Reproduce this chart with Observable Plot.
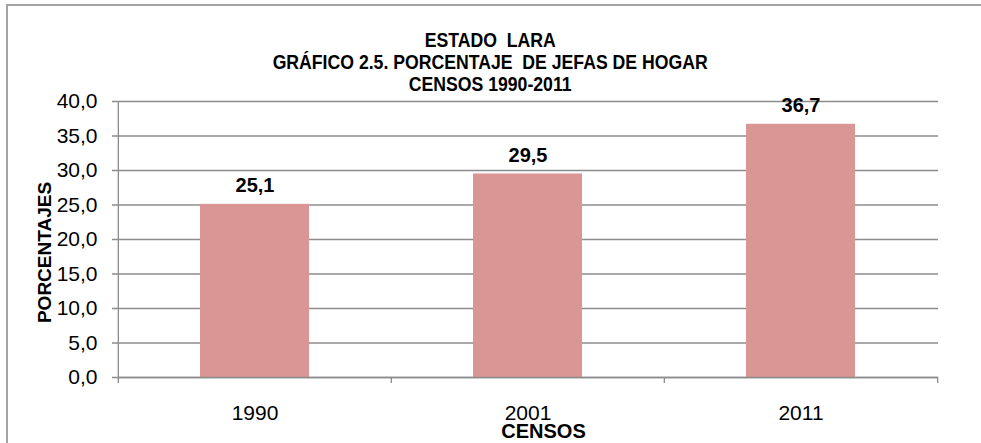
<!DOCTYPE html>
<html>
<head>
<meta charset="utf-8">
<script src="https://cdn.jsdelivr.net/npm/d3@7"></script>
<script src="https://cdn.jsdelivr.net/npm/@observablehq/plot@0.6"></script>
<style>
  html, body { margin: 0; padding: 0; background: #fff; overflow: hidden; }
  #wrap { position: relative; width: 981px; height: 443px; overflow: hidden; font-family: "Liberation Sans", Arial, sans-serif; }
  #border { position: absolute; left: 6px; top: 4px; width: 1000px; height: 500px; border-top: 2px solid #a3a3a3; border-left: 2px solid #a3a3a3; box-sizing: border-box; pointer-events: none; }
  #title { height: 92px; box-sizing: border-box; padding-top: 29px; text-align: center; font-weight: bold; font-size: 19.5px; line-height: 22px; color: #000; white-space: pre; transform: scaleX(0.905); transform-origin: 487px 0; }
  #chart svg { display: block; overflow: visible; }
</style>
</head>
<body>
<div id="wrap">
  <div id="title"></div>
  <div id="chart"></div>
  <div id="border"></div>
</div>
<script>
const titleLines = ["ESTADO  LARA", "GRÁFICO 2.5. PORCENTAJE  DE JEFAS DE HOGAR", "CENSOS 1990-2011"];
const years = ["1990", "2001", "2011"];
const values = [25.1, 29.5, 36.7];
const yTicks = [0, 5, 10, 15, 20, 25, 30, 35, 40];
const xTitle = "CENSOS";
const yTitle = "PORCENTAJES";

document.getElementById("title").textContent = titleLines.join("\n");

const data = years.map((y, i) => ({year: y, value: values[i]}));
const fmt = v => d3.format(".1f")(v).replace(".", ",");

const W = 981, H = 443 - 92;
const mL = 118, mR = 43, mT = 9, mB = 66;
const step = (W - mL - mR) / years.length;
const gray = "#8c8c8c";
const font = "'Liberation Sans', Arial, sans-serif";

const chart = Plot.plot({
  width: W,
  height: H,
  marginLeft: mL,
  marginRight: mR,
  marginTop: mT,
  marginBottom: mB,
  style: {fontFamily: font, color: "#000", background: "transparent", overflow: "visible"},
  x: {domain: years, paddingInner: 0.6, paddingOuter: 0.3, axis: null},
  y: {domain: [0, 40], axis: null},
  marks: [
    Plot.gridY(yTicks, {stroke: gray, strokeOpacity: 1, strokeWidth: 1.3, insetLeft: -6}),
    Plot.barY(data, {x: "year", y: "value", fill: "#D99694"}),
    Plot.ruleX([years[0]], {stroke: gray, strokeWidth: 1.3, dx: -step / 2, insetBottom: -6}),
    Plot.ruleX(years.slice(1), {x: d => d, y1: 0, y2: 0, insetBottom: -6, stroke: gray, strokeWidth: 1.3, dx: -step / 2}),
    Plot.ruleX([years[years.length - 1]], {x: d => d, y1: 0, y2: 0, insetBottom: -6, stroke: gray, strokeWidth: 1.3, dx: step / 2}),
    Plot.ruleY([0], {stroke: gray, strokeWidth: 1.3}),
    Plot.axisY({ticks: yTicks, tickSize: 0, tickPadding: 21, tickFormat: fmt, fontSize: 21, fill: "#000", label: null}),
    Plot.axisX({tickSize: 0, tickPadding: 28, fontSize: 21, fill: "#000", label: null}),
    Plot.text(data, {x: "year", y: "value", text: d => fmt(d.value), dy: -12, lineAnchor: "bottom", fontSize: 20, fontWeight: "bold", fill: "#000"}),
    Plot.text([xTitle], {frameAnchor: "bottom", text: d => d, textAnchor: "middle", dx: 15, dy: 54, lineAnchor: "middle", fontSize: 20, fontWeight: "bold", fill: "#000"}),
    Plot.text([yTitle], {frameAnchor: "left", text: d => d, textAnchor: "middle", rotate: -90, dx: -74, dy: 13, lineAnchor: "middle", fontSize: 19, fontWeight: "bold", fill: "#000"})
  ]
});
document.getElementById("chart").appendChild(chart);
</script>
</body>
</html>
